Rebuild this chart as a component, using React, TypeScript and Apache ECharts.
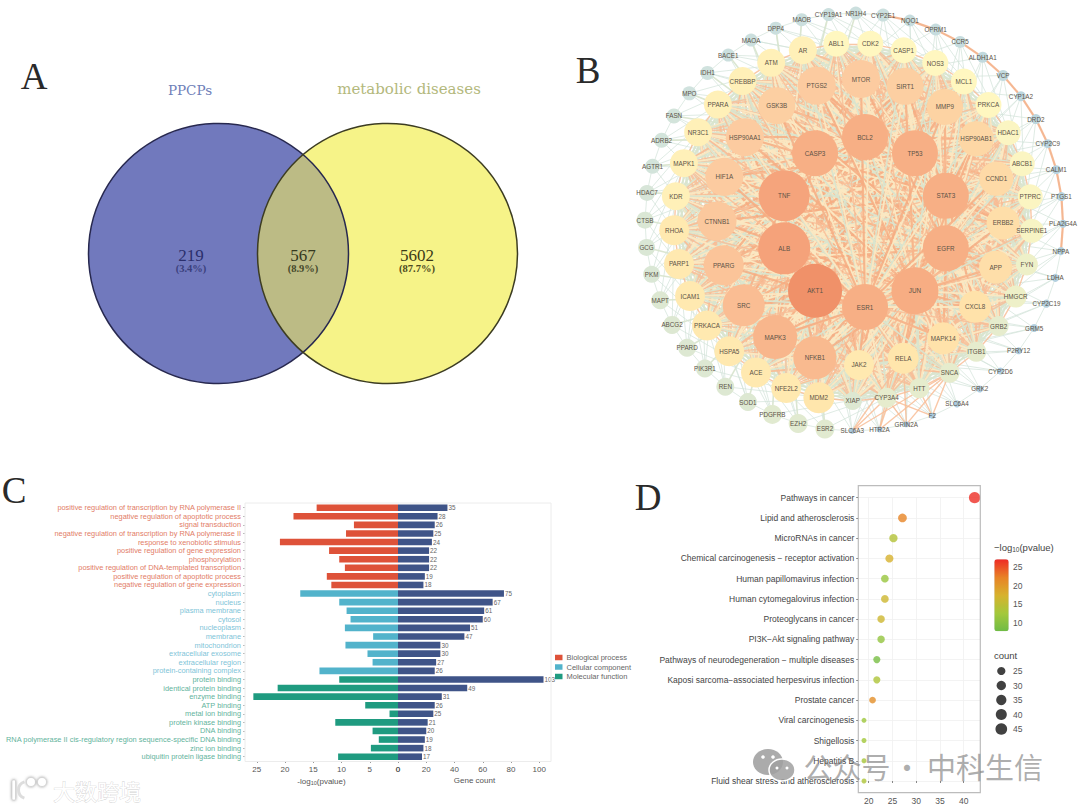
import React, { useEffect, useRef } from "react";
import * as echarts from "echarts";

// ---------- Panel A: Venn ----------
const vennNames = ["PPCPs", "metabolic diseases"];
const vennCounts = ["219", "567", "5602"];
const vennShares = ["(3.4%)", "(8.9%)", "(87.7%)"];

// ---------- Panel B: network, one list per ring, clockwise on screen ----------
const ring1Genes = ["AKT1", "ALB", "TNF", "CASP3", "BCL2", "TP53", "STAT3", "EGFR", "JUN", "ESR1"];
const ring1Degree = [108, 104, 102, 92, 92, 92, 92, 92, 94, 92];
const ring2Genes = ["NFKB1", "MAPK3", "SRC", "PPARG", "CTNNB1", "HIF1A", "HSP90AA1", "GSK3B", "PTGS2", "MTOR", "SIRT1", "MMP9", "HSP90AB1", "CCND1", "ERBB2", "APP", "CXCL8", "MAPK14", "RELA", "JAK2"];
const ring2Degree = [86, 88, 84, 80, 78, 76, 76, 74, 76, 76, 74, 72, 70, 68, 66, 66, 64, 64, 62, 60];
const ring3Genes = ["MDM2", "NFE2L2", "ACE", "HSPA5", "PRKACA", "ICAM1", "PARP1", "RHOA", "KDR", "MAPK1", "NR3C1", "PPARA", "CREBBP", "ATM", "AR", "ABL1", "CDK2", "CASP1", "NOS3", "MCL1", "PRKCA", "HDAC1", "ABCB1", "PTPRC", "SERPINE1", "FYN", "HMGCR", "GRB2", "ITGB1", "SNCA", "HTT", "CYP3A4", "XIAP"];
const ring3Degree = [62, 60, 60, 60, 60, 60, 60, 60, 56, 56, 56, 56, 56, 56, 56, 52, 52, 52, 52, 52, 52, 50, 50, 50, 48, 44, 44, 40, 40, 40, 40, 40, 36];
const ring4Genes = ["ESR2", "EZH2", "PDGFRB", "SOD1", "REN", "PIK3R1", "PPARD", "ABCG2", "MAPT", "PKM", "GCG", "CTSB", "HDAC7", "AGTR1", "ADRB2", "FASN", "MPO", "IDH1", "BACE1", "MAOA", "DPP4", "MAOB", "CYP19A1", "NR1H4", "CYP2E1", "NQO1", "OPRM1", "CCR5", "ALDH1A1", "VCP", "CYP1A2", "DRD2", "CYP2C9", "CALM1", "PTGS1", "PLA2G4A", "NPPA", "LDHA", "CYP2C19", "GRM5", "P2RY12", "CYP2D6", "GRK2", "SLC6A4", "F2", "GRIN2A", "HTR2A", "SLC6A3"];
const ring4Degree = [38, 38, 38, 36, 36, 36, 36, 36, 36, 34, 34, 34, 32, 30, 30, 30, 28, 28, 26, 26, 26, 26, 26, 26, 26, 24, 24, 24, 22, 22, 20, 20, 18, 18, 18, 16, 16, 16, 16, 16, 14, 14, 14, 14, 12, 12, 12, 12];

// ---------- Panel C: GO enrichment ----------
const bpTerms = ["positive regulation of transcription by RNA polymerase II", "negative regulation of apoptotic process", "signal transduction", "negative regulation of transcription by RNA polymerase II", "response to xenobiotic stimulus", "positive regulation of gene expression", "phosphorylation", "positive regulation of DNA-templated transcription", "positive regulation of apoptotic process", "negative regulation of gene expression"];
const ccTerms = ["cytoplasm", "nucleus", "plasma membrane", "cytosol", "nucleoplasm", "membrane", "mitochondrion", "extracellular exosome", "extracellular region", "protein-containing complex"];
const mfTerms = ["protein binding", "identical protein binding", "enzyme binding", "ATP binding", "metal ion binding", "protein kinase binding", "DNA binding", "RNA polymerase II cis-regulatory region sequence-specific DNA binding", "zinc ion binding", "ubiquitin protein ligase binding"];
const bpLogP = [14.4, 18.5, 7.8, 9.2, 20.9, 12.2, 10.4, 9.4, 12.6, 11.8];
const ccLogP = [17.3, 10.4, 9.1, 8.4, 9.4, 4.4, 9.3, 5.4, 4.5, 13.9];
const mfLogP = [10.4, 21.3, 25.6, 5.8, 1.5, 11.1, 4.5, 3.4, 4.8, 10.6];
const bpCount = [35, 28, 26, 25, 24, 22, 22, 22, 19, 18];
const ccCount = [75, 67, 61, 60, 51, 47, 30, 30, 27, 26];
const mfCount = [103, 49, 31, 26, 25, 21, 20, 19, 18, 17];
const goLegend = ["Biological process", "Cellular component", "Molecular function"];
const logPTicks = [0, 5, 10, 15, 20, 25];
const countTicks = [0, 20, 40, 60, 80, 100];

// ---------- Panel D: KEGG bubble ----------
const keggTerms = ["Pathways in cancer", "Lipid and atherosclerosis", "MicroRNAs in cancer", "Chemical carcinogenesis − receptor activation", "Human papillomavirus infection", "Human cytomegalovirus infection", "Proteoglycans in cancer", "PI3K−Akt signaling pathway", "Pathways of neurodegeneration − multiple diseases", "Kaposi sarcoma−associated herpesvirus infection", "Prostate cancer", "Viral carcinogenesis", "Shigellosis", "Hepatitis B", "Fluid shear stress and atherosclerosis"];
const keggCount = [42.3, 27.1, 25.2, 24.35, 23.4, 23.4, 22.6, 22.6, 21.7, 21.7, 20.8, 19, 19, 19, 19];
const keggLogP = [27, 22, 14, 17.5, 11.5, 16.5, 16.5, 11, 8.5, 13.5, 21, 12, 12.5, 13, 13.5];
const keggXTicks = [20, 25, 30, 35, 40];
const colorTicks = [25, 20, 15, 10];
const sizeTicks = ["25", "30", "35", "40", "45"];

const SANS = "Liberation Sans";
const SERIF = "Liberation Serif";

// Concentric layout of the network: centre, radius and start angle of each ring.
const rings = [
  { genes: ring1Genes, degree: ring1Degree, cx: 865, cy: 222, r: 85, start: 126 },
  { genes: ring2Genes, degree: ring2Degree, cx: 860, cy: 222, r: 143, start: 108.4 },
  { genes: ring3Genes, degree: ring3Degree, cx: 853, cy: 222, r: 179, start: 101 },
  { genes: ring4Genes, degree: ring4Degree, cx: 854, cy: 222, r: 209, start: 98 },
];

const degreeStops: [number, number[]][] = [
  [12, [170, 202, 224]],
  [20, [188, 214, 222]],
  [28, [208, 226, 222]],
  [36, [221, 232, 210]],
  [44, [238, 240, 200]],
  [52, [255, 247, 192]],
  [62, [255, 230, 172]],
  [76, [252, 203, 160]],
  [92, [247, 175, 133]],
  [104, [245, 162, 122]],
  [108, [240, 145, 105]],
];
function degreeColor(d: number) {
  for (let i = 1; i < degreeStops.length; i++) {
    const [d0, c0] = degreeStops[i - 1];
    const [d1, c1] = degreeStops[i];
    if (d <= d1) {
      const t = (d - d0) / (d1 - d0);
      return `rgb(${c0.map((c, k) => Math.round(c + (c1[k] - c) * t)).join(",")})`;
    }
  }
  return "rgb(240,145,105)";
}

function buildNodes() {
  const nodes: any[] = [];
  rings.forEach((ring) => {
    const step = 360 / ring.genes.length;
    ring.genes.forEach((name, i) => {
      const a = ((ring.start + i * step) * Math.PI) / 180;
      const d = ring.degree[i];
      nodes.push({
        name,
        value: [ring.cx + ring.r * Math.cos(a), ring.cy + ring.r * Math.sin(a)],
        symbolSize: d / 2,
        itemStyle: { color: degreeColor(d) },
        label: { show: true, position: "inside", fontSize: 6.3, color: "#5c5347", fontFamily: SANS },
      });
    });
  });
  return nodes;
}

// The individual edges cannot be read from the picture. They are an approximation
// by ring that gives the mixed orange, cream and pale green weave of the reference.
function buildLinks() {
  const pale = { color: "#d3e3da", width: 0.8, opacity: 0.9 };
  const green = { color: "#d9e5cf", width: 1.6, opacity: 0.95 };
  const cream = { color: "#fbe8c2", width: 1.8, opacity: 0.95 };
  const warm = { color: "#f8bd96", width: 1.4, opacity: 0.85 };
  const warmThick = { color: "#f6ad82", width: 2.2, opacity: 0.85 };
  const links: any[] = [];
  const add = (source: string, target: string, lineStyle: any) => links.push({ source, target, lineStyle });
  ring4Genes.forEach((g, i) => {
    add(g, ring4Genes[(i + 1) % 48], pale);
    add(g, ring3Genes[i % 33], pale);
    add(g, ring3Genes[(i + 5) % 33], pale);
    add(g, ring2Genes[i % 20], pale);
    add(g, ring3Genes[(i + 28) % 33], pale);
    add(g, ring1Genes[i % 10], i < 24 ? green : pale);
  });
  ring3Genes.forEach((g, i) => {
    add(g, ring3Genes[(i + 1) % 33], warm);
    [3, 5, 7, 11, 14].forEach((k) => add(g, ring3Genes[(i + k) % 33], k % 2 ? green : cream));
  });
  ring2Genes.forEach((g, i) => {
    ring3Genes.forEach((h, j) => {
      const m = (i + j) % 4;
      add(g, h, m === 0 || m === 1 ? warm : m === 2 ? cream : green);
    });
    ring2Genes.forEach((h, j) => {
      if (j > i) add(g, h, [cream, warm, warmThick][(i + j) % 3]);
    });
  });
  ring1Genes.forEach((g, i) => {
    ring3Genes.forEach((h, j) => {
      const m = (i + j) % 3;
      add(g, h, m === 0 ? warm : m === 1 ? cream : green);
    });
    ring2Genes.forEach((h, j) => add(g, h, (i + j) % 2 === 0 ? warmThick : cream));
    ring1Genes.forEach((h, j) => {
      if (j > i) add(g, h, (i + j) % 2 === 0 ? warmThick : cream);
    });
  });
  for (let i = 24; i < 36; i++) add(ring4Genes[i], ring4Genes[i + 1], warmThick);
  for (let i = 44; i < 48; i++) {
    for (let j = 29; j < 33; j += 2) add(ring4Genes[i], ring3Genes[j], warm);
    add(ring4Genes[i], ring2Genes[18], warm);
  }
  return links;
}

// Venn geometry
const VL = { cx: 218.5, cy: 253.5, r: 130 };
const VR = { cx: 387.5, cy: 253.5, r: 130 };
const lensX = (VL.cx + VR.cx) / 2;
const lensH = Math.sqrt(VL.r * VL.r - ((VR.cx - VL.cx) / 2) ** 2);
const lensPath = `M${lensX} ${VL.cy - lensH}A${VL.r} ${VL.r} 0 0 1 ${lensX} ${VL.cy + lensH}A${VR.r} ${VR.r} 0 0 1 ${lensX} ${VL.cy - lensH}Z`;
echarts.graphic.registerShape("vennLens", echarts.graphic.extendPath(lensPath as any, {}) as any);

const keggSize = (c: number) => 5 + 6.7 * Math.sqrt(Math.max(c - 19, 0) / 26);
const colorBar = { x: 994.3, y: 559.3, w: 14.4, h: 72, min: 7.7, max: 27.2 };

function buildOption() {
  const goTerms = [...bpTerms, ...ccTerms, ...mfTerms];
  const nul = (n: number) => new Array(n).fill(null);
  const goColors = ["#DE5239", "#52B3CB", "#1F9B80"];
  const labelColors = ["#E27C66", "#80C4D8", "#62B39C"];
  const allCount = [...bpCount, ...ccCount, ...mfCount];
  const goAxisText = { color: "#555", fontSize: 8, fontFamily: SANS };
  const subRich = {
    n: { fontSize: 8, color: "#555", fontFamily: SANS },
    s: { fontSize: 5.5, color: "#555", fontFamily: SANS, padding: [4, 0, 0, 0] },
  };
  const t = (x: number, y: number, text: string, font: number, fill: string, family = SERIF, weight = "normal", align = "center", z = 5) => ({
    type: "text",
    x,
    y,
    z,
    silent: true,
    style: { text, fontSize: font, fill, fontFamily: family, fontWeight: weight, align, verticalAlign: "middle" },
  });
  const vennX = [191, 303, 417];
  const colorToY = (v: number) => colorBar.y + ((colorBar.max - v) / (colorBar.max - colorBar.min)) * colorBar.h;
  const halo = { fill: "#fff", stroke: "#cfcfcf", lineWidth: 0.7, shadowColor: "#999", shadowBlur: 3 };

  const graphicElements: any[] = [
    // Panel letters
    t(34, 76, "A", 37, "#2a2a2a"),
    t(588, 70, "B", 37, "#2a2a2a"),
    t(14, 490, "C", 37, "#2a2a2a"),
    t(648, 497, "D", 37, "#2a2a2a"),
    // Venn
    t(190, 90, vennNames[0], 13.5, "#6F80B8", "DejaVu Serif"),
    t(409, 89, vennNames[1], 15, "#B3B87C", "DejaVu Serif"),
    { type: "circle", shape: { cx: VL.cx, cy: VL.cy, r: VL.r }, style: { fill: "#7179BD" }, z: 1, silent: true },
    { type: "circle", shape: { cx: VR.cx, cy: VR.cy, r: VR.r }, style: { fill: "#F6F388" }, z: 1, silent: true },
    { type: "vennLens", x: 0, y: 0, style: { fill: "#BCBB85" }, z: 2, silent: true },
    { type: "circle", shape: { cx: VL.cx, cy: VL.cy, r: VL.r }, style: { fill: "none", stroke: "#27284f", lineWidth: 1.5 }, z: 3, silent: true },
    { type: "circle", shape: { cx: VR.cx, cy: VR.cy, r: VR.r }, style: { fill: "none", stroke: "#3c3c22", lineWidth: 1.5 }, z: 3, silent: true },
    ...vennCounts.map((c, i) => t(vennX[i], 255, c, 17, ["#2B2F6C", "#35381E", "#3B3A17"][i])),
    ...vennShares.map((c, i) => t(vennX[i], 268.5, c, 10.5, ["#3A3F7C", "#45482A", "#4A4920"][i], SERIF, "bold")),
    // Panel borders
    { type: "rect", shape: { x: 245, y: 503, width: 306, height: 258.5 }, style: { fill: "none", stroke: "#ececec", lineWidth: 1 }, z: 4, silent: true },
    { type: "rect", shape: { x: 858.3, y: 485.7, width: 122, height: 307 }, style: { fill: "none", stroke: "#bcbcbc", lineWidth: 1.2 }, z: 4, silent: true },
    // Panel D legend texts
    {
      type: "text",
      x: 994,
      y: 547.7,
      z: 5,
      silent: true,
      style: {
        text: "{a|−log}{b|10}{a|(pvalue)}",
        verticalAlign: "middle",
        rich: {
          a: { fontSize: 9.5, fill: "#444", fontFamily: SANS },
          b: { fontSize: 6.5, fill: "#444", fontFamily: SANS, padding: [4, 0, 0, 0] },
        },
      },
    },
    t(994, 655, "count", 9.5, "#444", SANS, "normal", "left"),
    ...colorTicks.map((v) => t(1013, colorToY(v), String(v), 8.5, "#555", SANS, "normal", "left")),
    // Watermark, bottom right
    { type: "ellipse", shape: { cx: 768, cy: 762, rx: 15, ry: 13 }, style: { fill: "rgba(150,150,150,0.8)" }, z: 50, silent: true },
    { type: "ellipse", shape: { cx: 782, cy: 770, rx: 13, ry: 11 }, style: { fill: "rgba(160,160,160,0.85)", stroke: "#fff", lineWidth: 1.5 }, z: 51, silent: true },
    { type: "circle", shape: { cx: 763, cy: 757, r: 1.8 }, style: { fill: "#fff" }, z: 52, silent: true },
    { type: "circle", shape: { cx: 773, cy: 757, r: 1.8 }, style: { fill: "#fff" }, z: 52, silent: true },
    { type: "circle", shape: { cx: 777, cy: 768, r: 1.5 }, style: { fill: "#fff" }, z: 52, silent: true },
    { type: "circle", shape: { cx: 787, cy: 768, r: 1.5 }, style: { fill: "#fff" }, z: 52, silent: true },
    t(847, 766, "公众号", 29, "rgba(120,120,120,0.6)", "Noto Sans CJK SC", "normal", "center", 50),
    t(907, 766, "·", 29, "rgba(120,120,120,0.6)", "Noto Sans CJK SC", "normal", "center", 50),
    t(985, 766, "中科生信", 29, "rgba(120,120,120,0.6)", "Noto Sans CJK SC", "normal", "center", 50),
    // Watermark, bottom left
    {
      type: "text",
      x: 97,
      y: 790,
      z: 50,
      silent: true,
      style: { text: "大数跨境", fontSize: 22, fontFamily: "Noto Sans CJK SC", align: "center", verticalAlign: "middle", ...halo },
    },
    { type: "rect", shape: { x: 12, y: 780, width: 3.5, height: 20, r: 1 }, style: { ...halo }, z: 50, silent: true },
    { type: "arc", shape: { cx: 27, cy: 790, r: 8.5, startAngle: Math.PI * 0.6, endAngle: Math.PI * 1.4, clockwise: true }, style: { fill: "none", stroke: "#ddd", lineWidth: 3 }, z: 50, silent: true },
    { type: "circle", shape: { cx: 31, cy: 782, r: 4.5 }, style: { ...halo }, z: 50, silent: true },
    { type: "circle", shape: { cx: 42, cy: 782, r: 4.5 }, style: { ...halo }, z: 50, silent: true },
  ];

  return {
    animation: false,
    backgroundColor: "#fff",
    textStyle: { fontFamily: SANS },
    grid: [
      { left: 0, top: 0, width: 1080, height: 810, show: false },
      { left: 245, top: 503.4, width: 153, height: 257.6 },
      { left: 398, top: 503.4, width: 153, height: 257.6 },
      { left: 858.3, top: 497.7, width: 122, height: 283.3 },
      { left: 1001.3, top: 671, width: 1, height: 58 },
    ],
    xAxis: [
      { gridIndex: 0, type: "value", min: 0, max: 1080, show: false },
      {
        gridIndex: 1,
        type: "value",
        inverse: true,
        min: 0,
        max: 27.08,
        splitLine: { show: false },
        axisLine: { show: false },
        axisTick: { show: true, length: 2, lineStyle: { color: "#999" }, customValues: logPTicks },
        axisLabel: { ...goAxisText, margin: 4, customValues: logPTicks },
        name: "{n|-log}{s|10}{n|(pvalue)}",
        nameLocation: "middle",
        nameGap: 15,
        nameTextStyle: { rich: subRich },
      },
      {
        gridIndex: 2,
        type: "value",
        min: 0,
        max: 108.3,
        splitLine: { show: false },
        axisLine: { show: false },
        axisTick: { show: true, length: 2, lineStyle: { color: "#999" }, customValues: countTicks },
        axisLabel: { ...goAxisText, margin: 4, customValues: countTicks },
        name: "Gene count",
        nameLocation: "middle",
        nameGap: 15,
        nameTextStyle: { fontSize: 8, color: "#555", fontFamily: SANS },
      },
      {
        gridIndex: 3,
        type: "value",
        min: 17.8,
        max: 43.5,
        axisLine: { show: false },
        axisTick: { show: true, length: 2, lineStyle: { color: "#888" }, customValues: keggXTicks },
        axisLabel: { color: "#555", fontSize: 8.5, margin: 15, fontFamily: SANS, customValues: keggXTicks },
        splitLine: { show: true, lineStyle: { color: "#f0f0f0", width: 0.8 } },
      },
      { gridIndex: 4, type: "value", min: 0, max: 1, show: false },
    ],
    yAxis: [
      { gridIndex: 0, type: "value", min: 0, max: 810, inverse: true, show: false },
      {
        gridIndex: 1,
        type: "category",
        inverse: true,
        data: goTerms,
        axisLine: { show: false, onZero: false },
        axisTick: { show: true, length: 2, alignWithLabel: true, lineStyle: { color: "#bbb" } },
        axisLabel: {
          fontSize: 7.4,
          margin: 4,
          interval: 0,
          fontFamily: SANS,
          color: (_: any, i: number) => labelColors[Math.floor(i / 10)],
        },
      },
      { gridIndex: 2, type: "category", inverse: true, data: goTerms, axisLine: { show: false, onZero: false }, axisTick: { show: false }, axisLabel: { show: false } },
      {
        gridIndex: 3,
        type: "category",
        inverse: true,
        boundaryGap: false,
        data: keggTerms,
        axisLine: { show: false, onZero: false },
        axisTick: { show: true, length: 2, lineStyle: { color: "#777" } },
        axisLabel: { fontSize: 8.5, color: "#444", margin: 4, interval: 0, fontFamily: SANS },
        splitLine: { show: true, lineStyle: { color: "#f0f0f0", width: 0.8 } },
      },
      {
        gridIndex: 4,
        type: "category",
        inverse: true,
        boundaryGap: false,
        position: "right",
        data: sizeTicks,
        axisLine: { show: false, onZero: false },
        axisTick: { show: false },
        axisLabel: { fontSize: 8.5, color: "#555", margin: 10.7, fontFamily: SANS },
      },
    ],
    legend: {
      data: goLegend,
      orient: "vertical",
      left: 555,
      top: 653.5,
      padding: 0,
      itemWidth: 7.5,
      itemHeight: 5.5,
      itemGap: 1.5,
      icon: "rect",
      selectedMode: false,
      textStyle: { fontSize: 7.5, color: "#666", fontFamily: SANS, padding: [0, 0, 0, -1] },
    },
    visualMap: {
      show: true,
      type: "continuous",
      seriesIndex: 5,
      dimension: 2,
      min: colorBar.min,
      max: colorBar.max,
      left: colorBar.x,
      top: colorBar.y,
      padding: 0,
      itemWidth: colorBar.w,
      itemHeight: colorBar.h,
      text: ["", ""],
      calculable: false,
      hoverLink: false,
      inRange: { color: ["#6FBC45", "#A4C83B", "#D7B22D", "#E88226", "#EE2A25"] },
    },
    series: [
      {
        type: "graph",
        coordinateSystem: "cartesian2d",
        xAxisIndex: 0,
        yAxisIndex: 0,
        layout: "none",
        silent: true,
        data: buildNodes(),
        links: buildLinks(),
        lineStyle: { curveness: 0 },
      },
      ...goLegend.map((name, k) => ({
        type: "bar",
        name,
        xAxisIndex: 1,
        yAxisIndex: 1,
        stack: "logp",
        barWidth: 6.6,
        silent: true,
        itemStyle: { color: goColors[k] },
        data: [...nul(k * 10), ...[bpLogP, ccLogP, mfLogP][k], ...nul(20 - k * 10)],
      })),
      {
        type: "bar",
        name: "Gene count",
        xAxisIndex: 2,
        yAxisIndex: 2,
        barWidth: 6.6,
        silent: true,
        itemStyle: { color: "#3F5488" },
        label: { show: true, position: "right", distance: 1, fontSize: 6.3, color: "#666", fontFamily: SANS },
        data: allCount,
      },
      {
        type: "scatter",
        xAxisIndex: 3,
        yAxisIndex: 3,
        silent: true,
        clip: false,
        symbolSize: (v: any) => keggSize(v[0]),
        data: keggTerms.map((term, i) => [keggCount[i], term, keggLogP[i]]),
      },
      {
        type: "scatter",
        xAxisIndex: 4,
        yAxisIndex: 4,
        silent: true,
        symbolSize: (v: any) => keggSize(Number(v[1])),
        itemStyle: { color: "#111" },
        data: sizeTicks.map((s) => [0, s]),
      },
    ],
    graphic: { elements: graphicElements },
  };
}

export default function App() {
  const ref = useRef<HTMLDivElement>(null);
  useEffect(() => {
    document.body.style.margin = "0";
    const chart = echarts.init(ref.current as HTMLDivElement, undefined, { renderer: "svg" });
    chart.setOption(buildOption() as any);
    return () => chart.dispose();
  }, []);
  return <div ref={ref} style={{ position: "absolute", left: 0, top: 0, width: 1080, height: 810 }} />;
}
